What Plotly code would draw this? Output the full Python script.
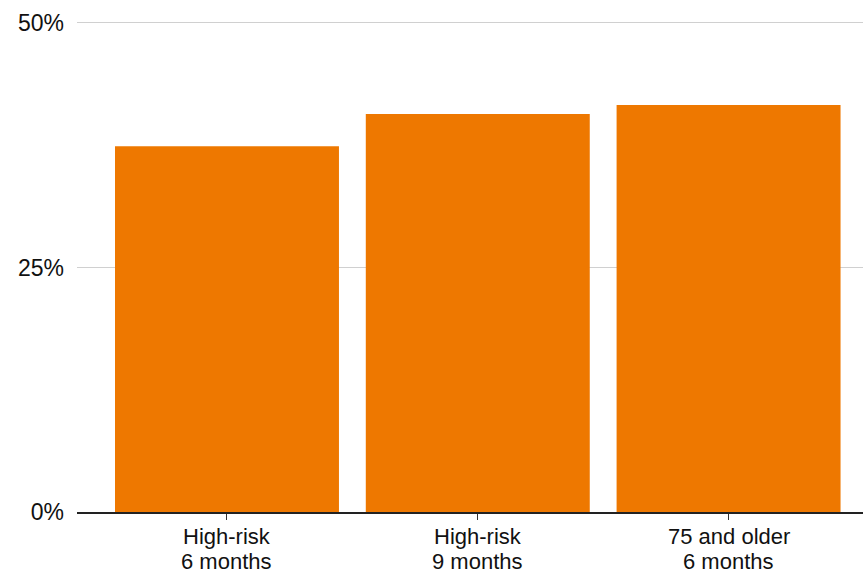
import plotly.graph_objects as go

# Share of each group (percent)
groups = ["High-risk 6 months", "High-risk 9 months", "75 and older 6 months"]
label_top = ["High-risk", "High-risk", "75 and older"]
label_bottom = ["6 months", "9 months", "6 months"]
shares = [37.4, 40.7, 41.6]

y_ticks = [0, 25, 50]
y_tick_text = ["0%", "25%", "50%"]

FONT = "Liberation Sans, Arial, Helvetica, sans-serif"

fig = go.Figure(
    go.Bar(
        x=groups,
        y=shares,
        marker=dict(color="#EE7800", line=dict(width=0)),
        width=0.893,
        hoverinfo="skip",
    )
)

# Two-line category labels with tight line spacing
annotations = []
for g, top, bottom in zip(groups, label_top, label_bottom):
    for text, shift in ((top, -24.6), (bottom, -49.4)):
        annotations.append(
            dict(
                x=g, xref="x", y=0, yref="paper",
                text=text, showarrow=False,
                xanchor="center", yanchor="middle", yshift=shift,
                font=dict(family=FONT, size=22, color="#111"),
            )
        )

fig.update_layout(
    width=863,
    height=574,
    margin=dict(l=77, r=0, t=20, b=62),
    paper_bgcolor="white",
    plot_bgcolor="white",
    showlegend=False,
    font=dict(family=FONT, size=23, color="#111"),
    annotations=annotations,
    xaxis=dict(
        type="category",
        range=[-0.598, 2.536],
        showline=True,
        linecolor="#222",
        linewidth=1.5,
        ticks="outside",
        ticklen=6,
        tickwidth=1,
        tickcolor="#333",
        showgrid=False,
        showticklabels=False,
        automargin=False,
    ),
    yaxis=dict(
        range=[0, 50.3],
        tickvals=y_ticks,
        ticktext=y_tick_text,
        showgrid=True,
        gridcolor="#d0d0d0",
        gridwidth=1,
        zeroline=False,
        showline=False,
        ticks="",
        ticklabelstandoff=12,
        automargin=False,
        tickfont=dict(size=23, color="#111"),
    ),
)

fig.write_html("out.html")
